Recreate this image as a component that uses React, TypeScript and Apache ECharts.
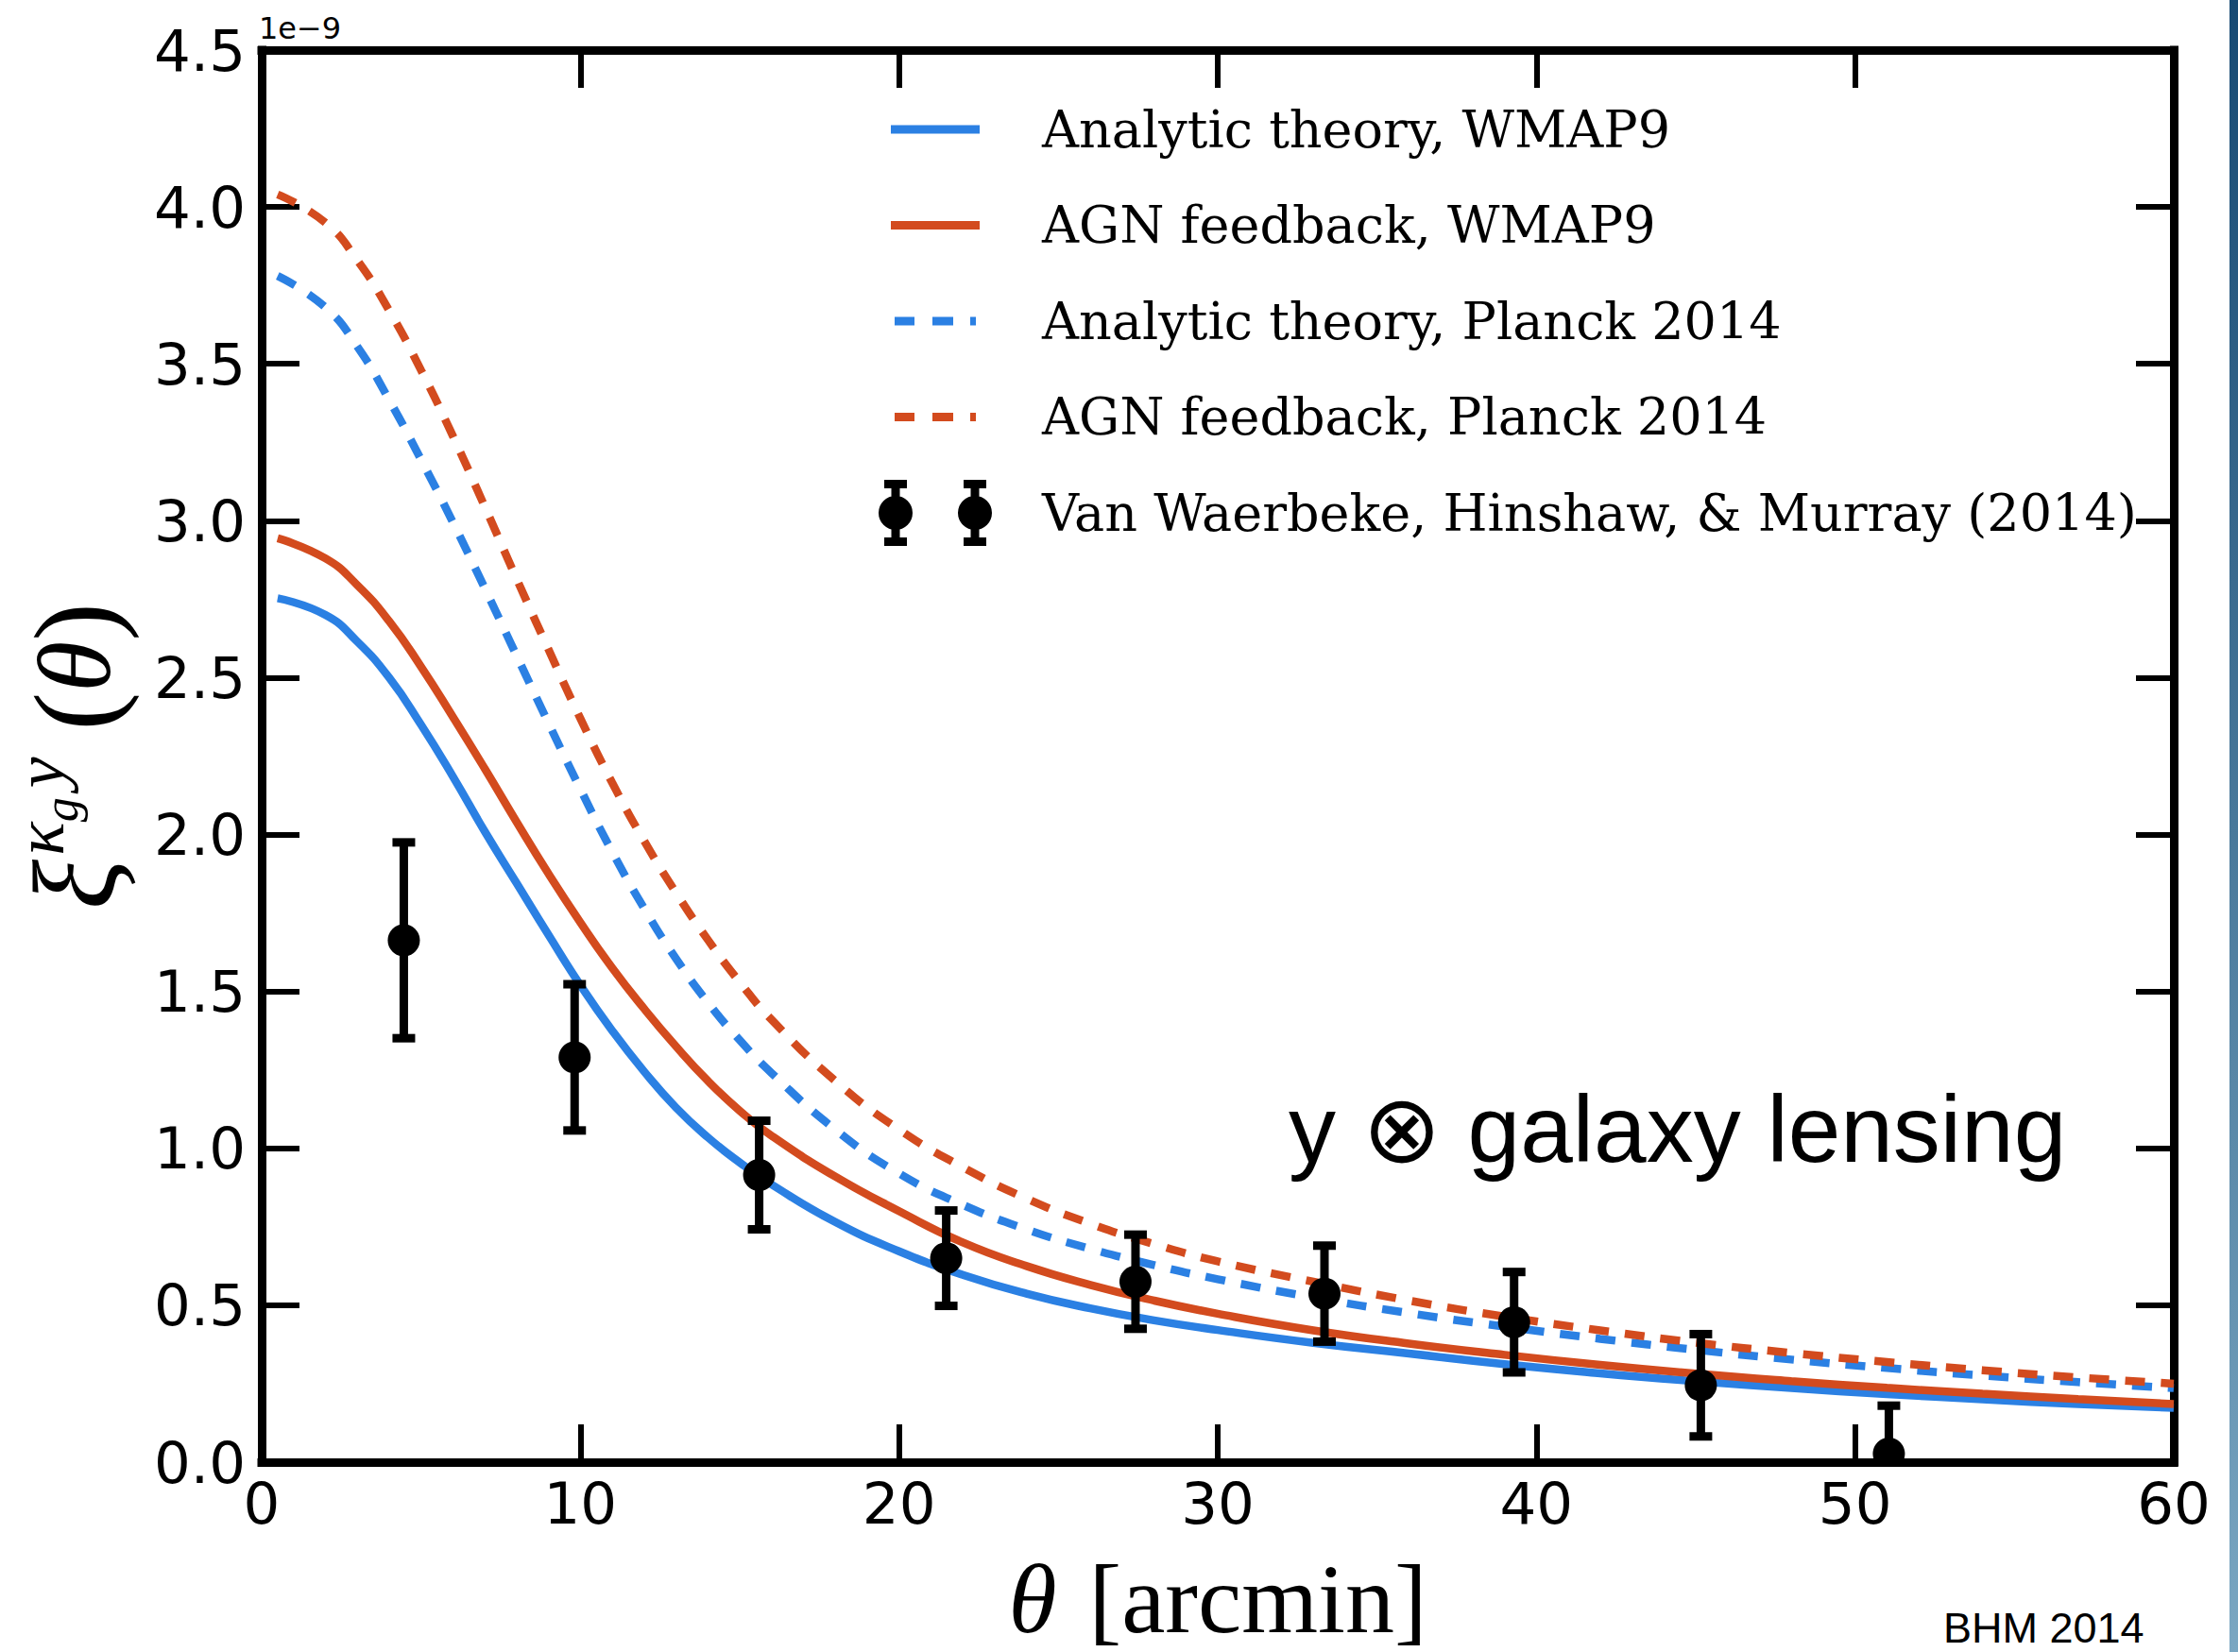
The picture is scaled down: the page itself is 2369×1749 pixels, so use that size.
import React, { useEffect, useRef } from 'react';
import * as echarts from 'echarts';

// Angular separation (arcmin) at which the model curves are tabulated
const thetaGrid = [0.5, 2, 3, 4, 5, 6, 7, 8, 9, 10, 11, 12, 13, 14, 15, 16, 18, 20, 22, 24, 26, 28, 30, 33, 36, 39, 42, 45, 48, 51, 54, 57, 60];

// Model correlation functions, in units of 1e-9
const analyticWmap9 = [2.753, 2.7, 2.615, 2.5, 2.35, 2.185, 2.01, 1.845, 1.68, 1.52, 1.375, 1.245, 1.13, 1.035, 0.955, 0.885, 0.765, 0.672, 0.597, 0.537, 0.49, 0.452, 0.421, 0.38, 0.346, 0.312, 0.283, 0.258, 0.236, 0.217, 0.2, 0.185, 0.173];
const agnWmap9 = [2.944, 2.88, 2.795, 2.68, 2.535, 2.375, 2.21, 2.04, 1.875, 1.72, 1.575, 1.445, 1.325, 1.215, 1.12, 1.04, 0.91, 0.8, 0.7, 0.625, 0.565, 0.515, 0.473, 0.42, 0.378, 0.342, 0.31, 0.282, 0.258, 0.237, 0.218, 0.201, 0.185];
const analyticPlanck = [3.78, 3.68, 3.555, 3.385, 3.195, 2.995, 2.785, 2.57, 2.355, 2.145, 1.945, 1.765, 1.605, 1.465, 1.345, 1.24, 1.06, 0.92, 0.82, 0.742, 0.68, 0.628, 0.583, 0.525, 0.475, 0.432, 0.393, 0.358, 0.327, 0.3, 0.276, 0.255, 0.236];
const agnPlanck = [4.04, 3.95, 3.83, 3.67, 3.48, 3.27, 3.045, 2.815, 2.59, 2.37, 2.165, 1.98, 1.815, 1.665, 1.53, 1.41, 1.215, 1.06, 0.94, 0.84, 0.76, 0.695, 0.64, 0.575, 0.515, 0.464, 0.42, 0.381, 0.348, 0.319, 0.293, 0.27, 0.25];

// Measured cross-correlation with 1-sigma errors (units of 1e-9)
const obsTheta = [4.46, 9.82, 15.61, 21.48, 27.42, 33.35, 39.3, 45.16, 51.06];
const obsValue = [1.663, 1.29, 0.915, 0.65, 0.575, 0.537, 0.446, 0.245, 0.027];
const obsError = [0.312, 0.233, 0.173, 0.152, 0.15, 0.153, 0.16, 0.163, 0.153];

const seriesNames = [
  'Analytic theory, WMAP9',
  'AGN feedback, WMAP9',
  'Analytic theory, Planck 2014',
  'AGN feedback, Planck 2014',
  'Van Waerbeke, Hinshaw, & Murray (2014)',
];

const BLUE = '#2b80e3';
const RED = '#d34b1e';
const DASH = [21, 17];

// Legend glyphs share a 120 x 70 box; the leading moves pin the box corners.
const solidIcon = 'path://M0 0M120 70M13 30.5H107V39.5H13Z';
const dashedIcon = 'path://M0 0M120 70M17 30.5H38V39.5H17Z M57 30.5H79V39.5H57Z M97 30.5H103V39.5H97Z';
const errorbarIcon =
  'path://M0 0M120 70' +
  'M13.5 0H22.5V70H13.5Z M6 0H30V9H6Z M6 61H30V70H6Z M0 35A18 18 0 1 1 36 35A18 18 0 1 1 0 35Z ' +
  'M97.5 0H106.5V70H97.5Z M90 0H114V9H90Z M90 61H114V70H90Z M84 35A18 18 0 1 1 120 35A18 18 0 1 1 84 35Z';

const pairs = (ys: number[]) => thetaGrid.map((t, i) => [t, ys[i]]);

const axisLineStyle = { color: '#000', width: 9, cap: 'square' as const };
const tickStyle = { inside: true, length: 40, lineStyle: { color: '#000', width: 6 } };
const tickFont = { fontFamily: 'DejaVu Sans', fontSize: 61, color: '#000' };
const serif = 'Liberation Serif';

function buildOption() {
  const lineSeries = (name: string, ys: number[], color: string, dashed: boolean, z: number) => ({
    name,
    type: 'line',
    data: pairs(ys),
    showSymbol: false,
    symbol: 'none',
    smooth: 0.5,
    color,
    z,
    lineStyle: { color, width: 8.5, type: dashed ? DASH : 'solid', cap: 'butt' },
  });

  return {
    animation: false,
    backgroundColor: '#fff',
    grid: { left: 277, top: 53, right: 68, bottom: 201, containLabel: false, outerBoundsMode: 'none' },
    xAxis: [
      {
        type: 'value',
        position: 'bottom',
        min: 0,
        max: 60,
        interval: 10,
        axisLine: { show: true, onZero: false, lineStyle: axisLineStyle },
        axisTick: tickStyle,
        splitLine: { show: false },
        axisLabel: { ...tickFont, margin: 13 },
        name: '{th|θ}{br|[arcmin]}',
        nameLocation: 'middle',
        nameGap: 92,
        nameTextStyle: {
          rich: {
            th: { fontFamily: serif, fontStyle: 'italic', fontSize: 104, color: '#000', verticalAlign: 'middle' },
            br: { fontFamily: serif, fontSize: 104, color: '#000', padding: [0, 0, 0, 34], verticalAlign: 'middle' },
          },
        },
      },
      {
        type: 'value',
        position: 'top',
        min: 0,
        max: 60,
        interval: 10,
        axisLine: { show: true, onZero: false, lineStyle: axisLineStyle },
        axisTick: tickStyle,
        splitLine: { show: false },
        axisLabel: { show: false },
      },
    ],
    yAxis: [
      {
        type: 'value',
        position: 'left',
        min: 0,
        max: 4.5,
        interval: 0.5,
        axisLine: { show: true, onZero: false, lineStyle: axisLineStyle },
        axisTick: tickStyle,
        splitLine: { show: false },
        axisLabel: { ...tickFont, margin: 17, formatter: (v: number) => v.toFixed(1) },
        name: '{xi|ξ}{k|κ}{g|g}{y|y}{lp|(}{th|θ}{rp|)}',
        nameLocation: 'middle',
        nameRotate: 90,
        nameGap: 124,
        nameTextStyle: {
          rich: {
            xi: { fontFamily: serif, fontStyle: 'italic', fontSize: 124, color: '#000', verticalAlign: 'middle' },
            k: { fontFamily: serif, fontStyle: 'italic', fontSize: 74, color: '#000', padding: [0, 0, 74, 4], verticalAlign: 'middle' },
            g: { fontFamily: serif, fontStyle: 'italic', fontSize: 52, color: '#000', padding: [0, 0, 30, 0], verticalAlign: 'middle' },
            y: { fontFamily: serif, fontStyle: 'italic', fontSize: 74, color: '#000', padding: [0, 0, 74, 10], verticalAlign: 'middle' },
            lp: { fontFamily: serif, fontSize: 122, color: '#000', padding: [0, 0, 0, 28], verticalAlign: 'middle' },
            th: { fontFamily: serif, fontStyle: 'italic', fontSize: 110, color: '#000', verticalAlign: 'middle' },
            rp: { fontFamily: serif, fontSize: 122, color: '#000', verticalAlign: 'middle' },
          },
        },
      },
      {
        type: 'value',
        position: 'right',
        min: 0,
        max: 4.5,
        interval: 0.5,
        axisLine: { show: true, onZero: false, lineStyle: axisLineStyle },
        axisTick: tickStyle,
        splitLine: { show: false },
        axisLabel: { show: false },
      },
    ],
    legend: {
      orient: 'vertical',
      left: 930,
      top: 102,
      itemWidth: 120,
      itemHeight: 70,
      itemGap: 31.5,
      selectedMode: false,
      padding: 0,
      itemStyle: { borderWidth: 0 },
      textStyle: { fontFamily: 'DejaVu Serif', fontSize: 54, color: '#000', padding: [0, 0, 0, 48] },
      data: [
        { name: seriesNames[0], icon: solidIcon },
        { name: seriesNames[1], icon: solidIcon },
        { name: seriesNames[2], icon: dashedIcon },
        { name: seriesNames[3], icon: dashedIcon },
        { name: seriesNames[4], icon: errorbarIcon },
      ],
    },
    series: [
      lineSeries(seriesNames[0], analyticWmap9, BLUE, false, 2),
      lineSeries(seriesNames[1], agnWmap9, RED, false, 3),
      lineSeries(seriesNames[2], analyticPlanck, BLUE, true, 4),
      lineSeries(seriesNames[3], agnPlanck, RED, true, 5),
      {
        name: seriesNames[4],
        type: 'custom',
        color: '#000',
        itemStyle: { color: '#000' },
        clip: true,
        z: 6,
        dimensions: ['theta', 'value', 'error'],
        encode: { x: 0, y: 1 },
        data: obsTheta.map((t, i) => [t, obsValue[i], obsError[i]]),
        renderItem: (_params: any, api: any) => {
          const t = api.value(0);
          const v = api.value(1);
          const e = api.value(2);
          const c = api.coord([t, v]);
          const hi = api.coord([t, v + e]);
          const lo = api.coord([t, v - e]);
          const s = { stroke: '#000', lineWidth: 9 };
          return {
            type: 'group',
            children: [
              { type: 'line', shape: { x1: c[0], y1: hi[1], x2: c[0], y2: lo[1] }, style: s },
              { type: 'line', shape: { x1: c[0] - 12, y1: hi[1], x2: c[0] + 12, y2: hi[1] }, style: s },
              { type: 'line', shape: { x1: c[0] - 12, y1: lo[1], x2: c[0] + 12, y2: lo[1] }, style: s },
              { type: 'circle', shape: { cx: c[0], cy: c[1], r: 17 }, style: { fill: '#000' } },
            ],
          };
        },
      },
    ],
    graphic: [
      {
        type: 'text',
        x: 274,
        y: 30,
        style: { text: '1e\u22129', fontFamily: 'DejaVu Sans', fontSize: 32, fill: '#000', align: 'left', verticalAlign: 'middle' },
      },
      {
        type: 'text',
        x: 1364,
        y: 1195,
        style: { text: 'y \u2297 galaxy lensing', fontFamily: 'Liberation Sans', fontSize: 100, fill: '#000', align: 'left', verticalAlign: 'middle' },
      },
      {
        type: 'text',
        x: 2057,
        y: 1723,
        style: { text: 'BHM 2014', fontFamily: 'Liberation Sans', fontSize: 45, fill: '#000', align: 'left', verticalAlign: 'middle' },
      },
      {
        type: 'rect',
        shape: { x: 2360, y: 0, width: 9, height: 1749 },
        style: {
          fill: new echarts.graphic.LinearGradient(0, 0, 0, 1, [
            { offset: 0, color: '#174a73' },
            { offset: 1, color: '#7aa7c2' },
          ]),
        },
      },
    ],
  };
}

export default function App() {
  const ref = useRef<HTMLDivElement>(null);
  useEffect(() => {
    document.body.style.margin = '0';
    document.body.style.overflow = 'hidden';
    const chart = echarts.init(ref.current as HTMLDivElement, null, { renderer: 'svg' });
    chart.setOption(buildOption() as any);
    return () => chart.dispose();
  }, []);
  return <div ref={ref} style={{ width: 2369, height: 1749, background: '#fff' }} />;
}
